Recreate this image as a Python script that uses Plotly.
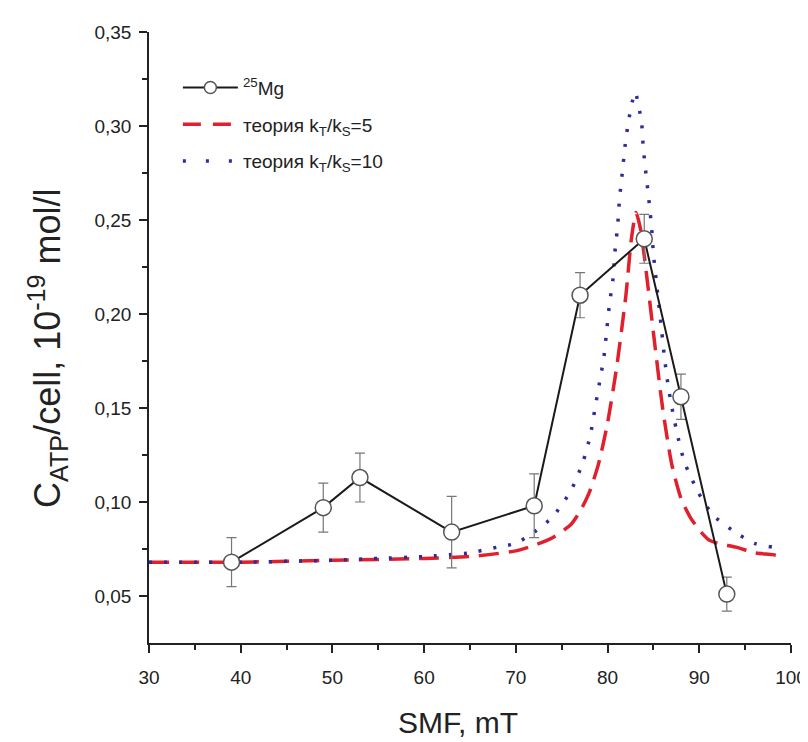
import plotly.graph_objects as go

# Experimental data (25Mg)
exp_x = [39, 49, 53, 63, 72, 77, 84, 88, 93]
exp_y = [0.068, 0.097, 0.113, 0.084, 0.098, 0.210, 0.240, 0.156, 0.051]
exp_err = [0.013, 0.013, 0.013, 0.019, 0.017, 0.012, 0.013, 0.012, 0.009]

# Theory kT/kS = 5
th5_x = [30, 40, 50, 60, 65, 70, 72, 74, 76, 77, 78, 79, 80, 81, 82, 82.6, 83.1,
         83.6, 84.2, 85, 86, 87, 88, 89, 90, 91, 92, 94, 96, 98, 99]
th5_y = [0.068, 0.068, 0.069, 0.070, 0.071, 0.074, 0.077, 0.081, 0.088, 0.095, 0.105,
         0.120, 0.142, 0.172, 0.210, 0.240, 0.254, 0.245, 0.223, 0.190, 0.150, 0.120,
         0.102, 0.092, 0.085, 0.080, 0.078, 0.076, 0.073, 0.072, 0.071]

# Theory kT/kS = 10
th10_x = [30, 40, 50, 55, 60, 65, 68, 70, 72, 74, 76, 77.3, 78.1, 78.6, 79.1, 79.6,
          79.9, 80.2, 80.6, 80.8, 81.1, 81.3, 81.6, 81.9, 82.3, 83.0, 83.7, 83.9, 84.2,
          84.5, 84.8, 85.0, 85.3, 85.9, 86.2, 86.6, 87.1, 87.7, 88.4, 89.9, 91.5, 93.9,
          96, 98, 99]
th10_y = [0.068, 0.068, 0.069, 0.070, 0.071, 0.073, 0.076, 0.078, 0.084, 0.092, 0.106,
          0.121, 0.135, 0.149, 0.163, 0.177, 0.191, 0.205, 0.219, 0.233, 0.247, 0.261,
          0.275, 0.289, 0.303, 0.318, 0.302, 0.288, 0.274, 0.261, 0.246, 0.232, 0.218,
          0.191, 0.177, 0.162, 0.148, 0.134, 0.121, 0.105, 0.093, 0.084, 0.078, 0.076, 0.075]

x_ticks = [30, 40, 50, 60, 70, 80, 90, 100]
y_ticks = [0.05, 0.10, 0.15, 0.20, 0.25, 0.30, 0.35]
y_ticktext = ["0,05", "0,10", "0,15", "0,20", "0,25", "0,30", "0,35"]

FONT = "Liberation Sans, Arial, sans-serif"
INK = "#222222"
RED = "#e0202c"
BLUE = "#2c2c9c"

fig = go.Figure()

fig.add_trace(go.Scatter(
    x=th5_x, y=th5_y, mode="lines", line_shape="spline",
    line=dict(color=RED, width=3.5, dash="20px,10px", smoothing=0.6),
    showlegend=False,
))
fig.add_trace(go.Scatter(
    x=th10_x, y=th10_y, mode="lines", line_shape="spline",
    line=dict(color=BLUE, width=3.5, dash="3px,12px", smoothing=0.6),
    showlegend=False,
))
fig.add_trace(go.Scatter(
    x=exp_x, y=exp_y, mode="lines+markers",
    line=dict(color="#1a1a1a", width=2),
    marker=dict(symbol="circle", size=16, color="white",
                line=dict(color="#555555", width=1.5)),
    error_y=dict(type="data", array=exp_err, color="#777777", thickness=1.2, width=5),
    showlegend=False,
))

# Legend entries (in the order of the reference)
fig.add_trace(go.Scatter(
    x=[None], y=[None], mode="lines+markers", name="<sup>25</sup>Mg", legendgroup="a",
    line=dict(color="#1a1a1a", width=2),
    marker=dict(symbol="circle", size=12, color="white",
                line=dict(color="#555555", width=1.5)),
))
fig.add_trace(go.Scatter(
    x=[None], y=[None], mode="lines", name="теория k<sub>T</sub>/k<sub>S</sub>=5",
    legendgroup="b", line=dict(color=RED, width=3.5, dash="18px,12px"),
))
fig.add_trace(go.Scatter(
    x=[None], y=[None], mode="lines", name="теория k<sub>T</sub>/k<sub>S</sub>=10",
    legendgroup="c", line=dict(color=BLUE, width=3.5, dash="3px,20px"),
))

fig.update_layout(
    width=808, height=742,
    margin=dict(l=141, r=25, t=24, b=107),
    paper_bgcolor="white", plot_bgcolor="white",
    font=dict(family=FONT, color=INK),
    legend=dict(x=0.045, y=0.94, xanchor="left", yanchor="top",
                font=dict(size=19, color=INK), itemwidth=55,
                bgcolor="rgba(0,0,0,0)", tracegroupgap=9),
    xaxis=dict(
        range=[30, 100], tickvals=x_ticks, ticks="outside", ticklen=8, tickwidth=1.5,
        tickcolor=INK, showline=True, linecolor=INK, linewidth=1.5,
        showgrid=False, zeroline=False, automargin=False,
        tickfont=dict(size=19, color=INK), ticklabelstandoff=8,
        minor=dict(dtick=5, ticks="outside", ticklen=5, tickwidth=1.5, tickcolor=INK),
    ),
    yaxis=dict(
        range=[0.025, 0.35], tickvals=y_ticks, ticktext=y_ticktext, ticks="outside",
        ticklen=8, tickwidth=1.5, tickcolor=INK, showline=True,
        linecolor=INK, linewidth=1.5, showgrid=False, zeroline=False, automargin=False,
        tickfont=dict(size=19, color=INK), ticklabelstandoff=4,
        minor=dict(tickvals=[0.075, 0.125, 0.175, 0.225, 0.275, 0.325], ticks="outside",
                   ticklen=5, tickwidth=1.5, tickcolor=INK),
    ),
    annotations=[
        dict(text="SMF, mT", xref="paper", yref="paper",
             x=(450 - 141) / 642, y=-(714 - 635) / 611, xanchor="center", yanchor="middle",
             showarrow=False, font=dict(size=30, color=INK)),
        dict(text="C<sub>ATP</sub>/cell, 10<sup>-19</sup> mol/l", xref="paper", yref="paper",
             x=-(141 - 40) / 642, y=(635 - 340) / 611, xanchor="center", yanchor="middle",
             textangle=-90, showarrow=False, font=dict(size=36, color=INK)),
    ],
)

fig.write_html("out.html")
